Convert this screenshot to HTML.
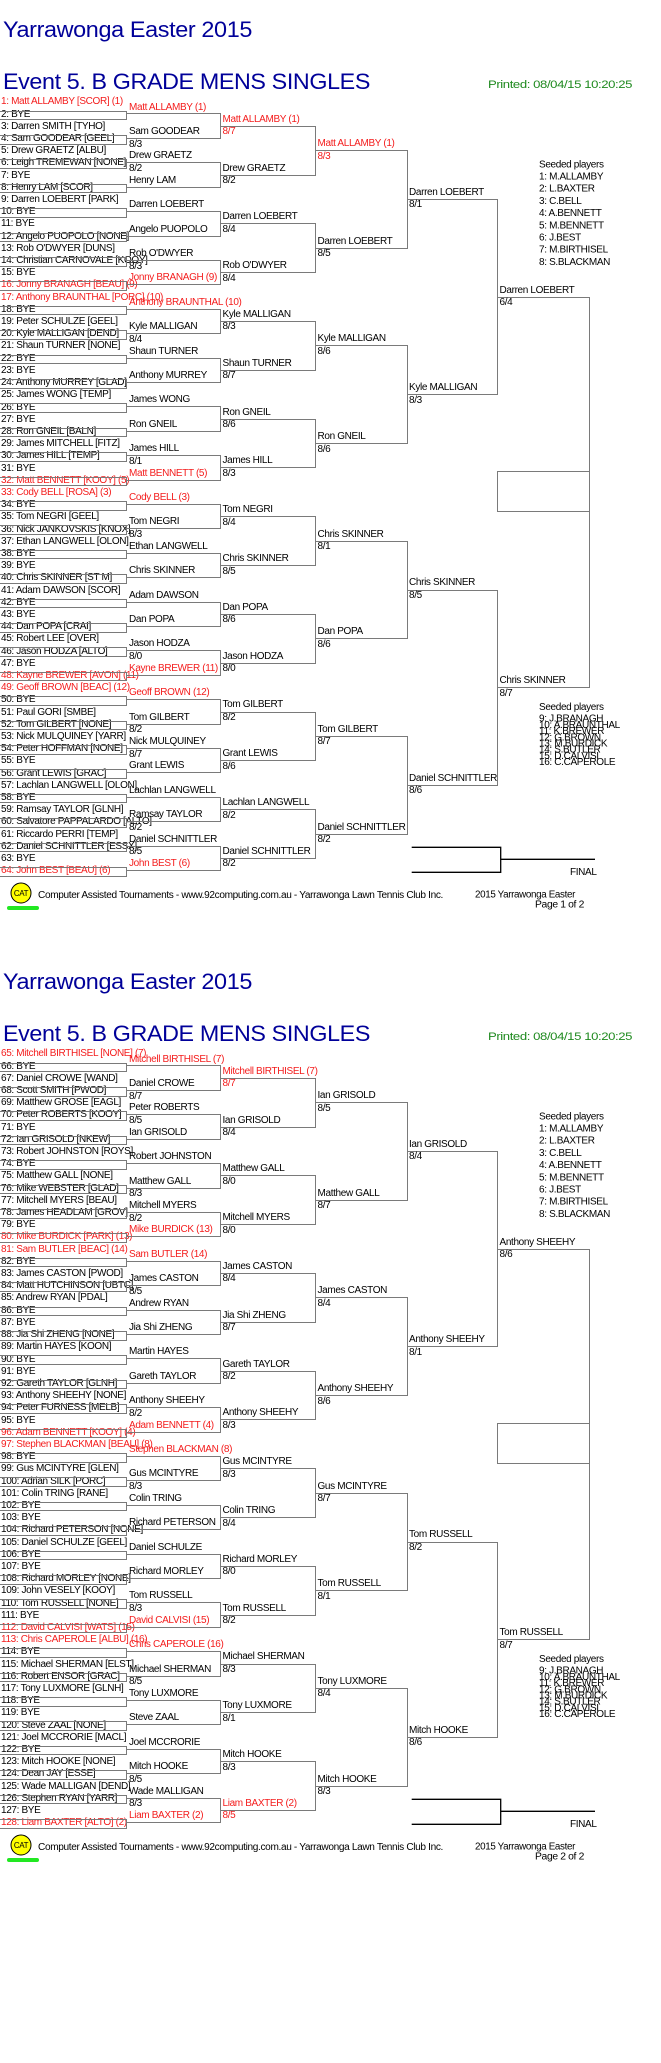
<!DOCTYPE html>
<html><head><meta charset="utf-8">
<style>
body{margin:0;width:661px;height:2063px;background:#fff;position:relative;overflow:hidden;font-family:"Liberation Sans",Arial,sans-serif;font-size:10px;letter-spacing:-0.35px;color:#000}
.pg{position:absolute;left:0;width:661px;height:952px}
.pg svg{position:absolute;left:0;top:0}
.e,.bx,.t{position:absolute;top:96.43px}
.e{left:1px}
.e div{height:12.206px;line-height:12.206px;white-space:nowrap}
.bx div{position:relative}
.bx div::after{content:"";position:absolute;left:0;border:1px solid #7a7a7a;border-left:0;box-sizing:border-box}
.b1{left:0}.b1 div{height:24.412px}.b1 div::after{top:14.1px;height:9.6px;width:127px}
.b2{left:126px}.b2 div{height:48.824px}.b2 div::after{top:17.07px;height:25.41px;width:95px}
.b3{left:220px}.b3 div{height:97.648px}.b3 div::after{top:29.28px;height:49.82px;width:96px}
.b4{left:315px}.b4 div{height:195.296px}.b4 div::after{top:53.69px;height:98.65px;width:92.7px}
.b5{left:406.7px}.b5 div{height:390.592px}.b5 div::after{top:102.5px;height:196.3px;width:91.3px}
.b6{left:497px}.b6 div{height:781.2px}.b6 div::after{top:200.2px;height:391.6px;width:93px}
.rect{position:absolute;left:497px;top:471px;width:93px;height:41px;border:1px solid #7a7a7a;box-sizing:border-box}
.t div{position:relative}
.t span{position:absolute;left:0;white-space:nowrap;line-height:12px}
.t2{left:129px}.t2 div{height:24.412px}.t2 .n{top:5.1px}.t2 .s{top:17.8px}
.t3{left:222.5px}.t3 div{height:48.824px}.t3 .n{top:17.31px}.t3 .s{top:29.78px}
.t4{left:317.5px}.t4 div{height:97.648px}.t4 .n{top:41.72px}.t4 .s{top:54.19px}
.t5{left:409px}.t5 div{height:195.296px}.t5 .n{top:90.5px}.t5 .s{top:103px}
.t6{left:499.5px}.t6 div{height:390.592px}.t6 .n{top:188.2px}.t6 .s{top:200.7px}
.r{color:#f41c1c}
svg text{font-family:"Liberation Sans",Arial,sans-serif}
</style></head><body>

<!-- PAGE 1 -->
<div class="pg" style="top:0">
<svg width="661" height="952">
<text x="3" y="37" font-size="22" fill="#000099" textLength="249" lengthAdjust="spacingAndGlyphs">Yarrawonga Easter 2015</text>
<text x="3" y="89" font-size="22" fill="#000099" textLength="367" lengthAdjust="spacingAndGlyphs">Event 5. B GRADE MENS SINGLES</text>
<text x="488" y="88" font-size="11" fill="#1f8a1f" textLength="144" lengthAdjust="spacingAndGlyphs">Printed: 08/04/15 10:20:25</text>
<g font-size="10" fill="#000" letter-spacing="-0.35">
<text x="539" y="167.3">Seeded players</text>
<text x="539" y="179.3">1: M.ALLAMBY</text>
<text x="539" y="191.5">2: L.BAXTER</text>
<text x="539" y="203.8">3: C.BELL</text>
<text x="539" y="216">4: A.BENNETT</text>
<text x="539" y="228.3">5: M.BENNETT</text>
<text x="539" y="240.5">6: J.BEST</text>
<text x="539" y="252.7">7: M.BIRTHISEL</text>
<text x="539" y="265">8: S.BLACKMAN</text>
<text x="539" y="710">Seeded players</text>
<text x="539" y="721.7">9: J.BRANAGH</text>
<text x="539" y="727.9">10: A.BRAUNTHAL</text>
<text x="539" y="734.1">11: K.BREWER</text>
<text x="539" y="740.3">12: G.BROWN</text>
<text x="539" y="746.5">13: M.BURDICK</text>
<text x="539" y="752.7">14: S.BUTLER</text>
<text x="539" y="758.9">15: D.CALVISI</text>
<text x="539" y="765">16: C.CAPEROLE</text>
<text x="570" y="875">FINAL</text>
<text x="38" y="898" textLength="405" lengthAdjust="spacingAndGlyphs">Computer Assisted Tournaments - www.92computing.com.au -  Yarrawonga Lawn Tennis Club Inc.</text>
<text x="475" y="897.7" textLength="100" lengthAdjust="spacingAndGlyphs">2015 Yarrawonga Easter</text>
<text x="535" y="907.5" textLength="49" lengthAdjust="spacingAndGlyphs">Page 1 of 2</text>
</g>
<path d="M411.7 847.3H500.7V872.3H411.7M500.7 859.3H595" fill="none" stroke="#000" stroke-width="1.3"/>
<circle cx="21" cy="893" r="10" fill="#ffff00" stroke="#000" stroke-width="1"/>
<text x="21" y="896" font-size="8" text-anchor="middle" fill="#000">CAT</text>
<rect x="7" y="906" width="32" height="4" rx="2" fill="#22e822"/>
</svg>
<div class="rect"></div>
<div class="e">
<div class="r">1: Matt ALLAMBY [SCOR] (1)</div><div>2: BYE</div><div>3: Darren SMITH [TYHO]</div><div>4: Sam GOODEAR [GEEL]</div>
<div>5: Drew GRAETZ [ALBU]</div><div>6: Leigh TREMEWAN [NONE]</div><div>7: BYE</div><div>8: Henry LAM [SCOR]</div>
<div>9: Darren LOEBERT [PARK]</div><div>10: BYE</div><div>11: BYE</div><div>12: Angelo PUOPOLO [NONE]</div>
<div>13: Rob O'DWYER [DUNS]</div><div>14: Christian CARNOVALE [KOOY]</div><div>15: BYE</div><div class="r">16: Jonny BRANAGH [BEAU] (9)</div>
<div class="r">17: Anthony BRAUNTHAL [PORC] (10)</div><div>18: BYE</div><div>19: Peter SCHULZE [GEEL]</div><div>20: Kyle MALLIGAN [DEND]</div>
<div>21: Shaun TURNER [NONE]</div><div>22: BYE</div><div>23: BYE</div><div>24: Anthony MURREY [GLAD]</div>
<div>25: James WONG [TEMP]</div><div>26: BYE</div><div>27: BYE</div><div>28: Ron GNEIL [BALN]</div>
<div>29: James MITCHELL [FITZ]</div><div>30: James HILL [TEMP]</div><div>31: BYE</div><div class="r">32: Matt BENNETT [KOOY] (5)</div>
<div class="r">33: Cody BELL [ROSA] (3)</div><div>34: BYE</div><div>35: Tom NEGRI [GEEL]</div><div>36: Nick JANKOVSKIS [KNOX]</div>
<div>37: Ethan LANGWELL [OLON]</div><div>38: BYE</div><div>39: BYE</div><div>40: Chris SKINNER [ST M]</div>
<div>41: Adam DAWSON [SCOR]</div><div>42: BYE</div><div>43: BYE</div><div>44: Dan POPA [CRAI]</div>
<div>45: Robert LEE [OVER]</div><div>46: Jason HODZA [ALTO]</div><div>47: BYE</div><div class="r">48: Kayne BREWER [AVON] (11)</div>
<div class="r">49: Geoff BROWN [BEAC] (12)</div><div>50: BYE</div><div>51: Paul GORI [SMBE]</div><div>52: Tom GILBERT [NONE]</div>
<div>53: Nick MULQUINEY [YARR]</div><div>54: Peter HOFFMAN [NONE]</div><div>55: BYE</div><div>56: Grant LEWIS [GRAC]</div>
<div>57: Lachlan LANGWELL [OLON]</div><div>58: BYE</div><div>59: Ramsay TAYLOR [GLNH]</div><div>60: Salvatore PAPPALARDO [ALTO]</div>
<div>61: Riccardo PERRI [TEMP]</div><div>62: Daniel SCHNITTLER [ESSX]</div><div>63: BYE</div><div class="r">64: John BEST [BEAU] (6)</div>
</div>
<div class="bx b1"><div></div><div></div><div></div><div></div><div></div><div></div><div></div><div></div><div></div><div></div><div></div><div></div><div></div><div></div><div></div><div></div><div></div><div></div><div></div><div></div><div></div><div></div><div></div><div></div><div></div><div></div><div></div><div></div><div></div><div></div><div></div><div></div></div>
<div class="bx b2"><div></div><div></div><div></div><div></div><div></div><div></div><div></div><div></div><div></div><div></div><div></div><div></div><div></div><div></div><div></div><div></div></div>
<div class="bx b3"><div></div><div></div><div></div><div></div><div></div><div></div><div></div><div></div></div>
<div class="bx b4"><div></div><div></div><div></div><div></div></div>
<div class="bx b5"><div></div><div></div></div>
<div class="bx b6"><div></div></div>
<div class="t t2">
<div><span class="n r">Matt ALLAMBY (1)</span></div>
<div><span class="n">Sam GOODEAR</span><span class="s">8/3</span></div>
<div><span class="n">Drew GRAETZ</span><span class="s">8/2</span></div>
<div><span class="n">Henry LAM</span></div>
<div><span class="n">Darren LOEBERT</span></div>
<div><span class="n">Angelo PUOPOLO</span></div>
<div><span class="n">Rob O'DWYER</span><span class="s">8/3</span></div>
<div><span class="n r">Jonny BRANAGH (9)</span></div>
<div><span class="n r">Anthony BRAUNTHAL (10)</span></div>
<div><span class="n">Kyle MALLIGAN</span><span class="s">8/4</span></div>
<div><span class="n">Shaun TURNER</span></div>
<div><span class="n">Anthony MURREY</span></div>
<div><span class="n">James WONG</span></div>
<div><span class="n">Ron GNEIL</span></div>
<div><span class="n">James HILL</span><span class="s">8/1</span></div>
<div><span class="n r">Matt BENNETT (5)</span></div>
<div><span class="n r">Cody BELL (3)</span></div>
<div><span class="n">Tom NEGRI</span><span class="s">8/3</span></div>
<div><span class="n">Ethan LANGWELL</span></div>
<div><span class="n">Chris SKINNER</span></div>
<div><span class="n">Adam DAWSON</span></div>
<div><span class="n">Dan POPA</span></div>
<div><span class="n">Jason HODZA</span><span class="s">8/0</span></div>
<div><span class="n r">Kayne BREWER (11)</span></div>
<div><span class="n r">Geoff BROWN (12)</span></div>
<div><span class="n">Tom GILBERT</span><span class="s">8/2</span></div>
<div><span class="n">Nick MULQUINEY</span><span class="s">8/7</span></div>
<div><span class="n">Grant LEWIS</span></div>
<div><span class="n">Lachlan LANGWELL</span></div>
<div><span class="n">Ramsay TAYLOR</span><span class="s">8/2</span></div>
<div><span class="n">Daniel SCHNITTLER</span><span class="s">8/5</span></div>
<div><span class="n r">John BEST (6)</span></div>
</div>
<div class="t t3">
<div><span class="n r">Matt ALLAMBY (1)</span><span class="s r">8/7</span></div>
<div><span class="n">Drew GRAETZ</span><span class="s">8/2</span></div>
<div><span class="n">Darren LOEBERT</span><span class="s">8/4</span></div>
<div><span class="n">Rob O'DWYER</span><span class="s">8/4</span></div>
<div><span class="n">Kyle MALLIGAN</span><span class="s">8/3</span></div>
<div><span class="n">Shaun TURNER</span><span class="s">8/7</span></div>
<div><span class="n">Ron GNEIL</span><span class="s">8/6</span></div>
<div><span class="n">James HILL</span><span class="s">8/3</span></div>
<div><span class="n">Tom NEGRI</span><span class="s">8/4</span></div>
<div><span class="n">Chris SKINNER</span><span class="s">8/5</span></div>
<div><span class="n">Dan POPA</span><span class="s">8/6</span></div>
<div><span class="n">Jason HODZA</span><span class="s">8/0</span></div>
<div><span class="n">Tom GILBERT</span><span class="s">8/2</span></div>
<div><span class="n">Grant LEWIS</span><span class="s">8/6</span></div>
<div><span class="n">Lachlan LANGWELL</span><span class="s">8/2</span></div>
<div><span class="n">Daniel SCHNITTLER</span><span class="s">8/2</span></div>
</div>
<div class="t t4">
<div><span class="n r">Matt ALLAMBY (1)</span><span class="s r">8/3</span></div>
<div><span class="n">Darren LOEBERT</span><span class="s">8/5</span></div>
<div><span class="n">Kyle MALLIGAN</span><span class="s">8/6</span></div>
<div><span class="n">Ron GNEIL</span><span class="s">8/6</span></div>
<div><span class="n">Chris SKINNER</span><span class="s">8/1</span></div>
<div><span class="n">Dan POPA</span><span class="s">8/6</span></div>
<div><span class="n">Tom GILBERT</span><span class="s">8/7</span></div>
<div><span class="n">Daniel SCHNITTLER</span><span class="s">8/2</span></div>
</div>
<div class="t t5">
<div><span class="n">Darren LOEBERT</span><span class="s">8/1</span></div>
<div><span class="n">Kyle MALLIGAN</span><span class="s">8/3</span></div>
<div><span class="n">Chris SKINNER</span><span class="s">8/5</span></div>
<div><span class="n">Daniel SCHNITTLER</span><span class="s">8/6</span></div>
</div>
<div class="t t6">
<div><span class="n">Darren LOEBERT</span><span class="s">6/4</span></div>
<div><span class="n">Chris SKINNER</span><span class="s">8/7</span></div>
</div>
</div>

<!-- PAGE 2 -->
<div class="pg" style="top:952px">
<svg width="661" height="952">
<text x="3" y="37" font-size="22" fill="#000099" textLength="249" lengthAdjust="spacingAndGlyphs">Yarrawonga Easter 2015</text>
<text x="3" y="89" font-size="22" fill="#000099" textLength="367" lengthAdjust="spacingAndGlyphs">Event 5. B GRADE MENS SINGLES</text>
<text x="488" y="88" font-size="11" fill="#1f8a1f" textLength="144" lengthAdjust="spacingAndGlyphs">Printed: 08/04/15 10:20:25</text>
<g font-size="10" fill="#000" letter-spacing="-0.35">
<text x="539" y="167.3">Seeded players</text>
<text x="539" y="179.3">1: M.ALLAMBY</text>
<text x="539" y="191.5">2: L.BAXTER</text>
<text x="539" y="203.8">3: C.BELL</text>
<text x="539" y="216">4: A.BENNETT</text>
<text x="539" y="228.3">5: M.BENNETT</text>
<text x="539" y="240.5">6: J.BEST</text>
<text x="539" y="252.7">7: M.BIRTHISEL</text>
<text x="539" y="265">8: S.BLACKMAN</text>
<text x="539" y="710">Seeded players</text>
<text x="539" y="721.7">9: J.BRANAGH</text>
<text x="539" y="727.9">10: A.BRAUNTHAL</text>
<text x="539" y="734.1">11: K.BREWER</text>
<text x="539" y="740.3">12: G.BROWN</text>
<text x="539" y="746.5">13: M.BURDICK</text>
<text x="539" y="752.7">14: S.BUTLER</text>
<text x="539" y="758.9">15: D.CALVISI</text>
<text x="539" y="765">16: C.CAPEROLE</text>
<text x="570" y="875">FINAL</text>
<text x="38" y="898" textLength="405" lengthAdjust="spacingAndGlyphs">Computer Assisted Tournaments - www.92computing.com.au -  Yarrawonga Lawn Tennis Club Inc.</text>
<text x="475" y="897.7" textLength="100" lengthAdjust="spacingAndGlyphs">2015 Yarrawonga Easter</text>
<text x="535" y="907.5" textLength="49" lengthAdjust="spacingAndGlyphs">Page 2 of 2</text>
</g>
<path d="M411.7 847.3H500.7V872.3H411.7M500.7 859.3H595" fill="none" stroke="#000" stroke-width="1.3"/>
<circle cx="21" cy="893" r="10" fill="#ffff00" stroke="#000" stroke-width="1"/>
<text x="21" y="896" font-size="8" text-anchor="middle" fill="#000">CAT</text>
<rect x="7" y="906" width="32" height="4" rx="2" fill="#22e822"/>
</svg>
<div class="rect"></div>
<div class="e">
<div class="r">65: Mitchell BIRTHISEL [NONE] (7)</div><div>66: BYE</div><div>67: Daniel CROWE [WAND]</div><div>68: Scott SMITH [PWOD]</div>
<div>69: Matthew GROSE [EAGL]</div><div>70: Peter ROBERTS [KOOY]</div><div>71: BYE</div><div>72: Ian GRISOLD [NKEW]</div>
<div>73: Robert JOHNSTON [ROYS]</div><div>74: BYE</div><div>75: Matthew GALL [NONE]</div><div>76: Mike WEBSTER [GLAD]</div>
<div>77: Mitchell MYERS [BEAU]</div><div>78: James HEADLAM [GROV]</div><div>79: BYE</div><div class="r">80: Mike BURDICK [PARK] (13)</div>
<div class="r">81: Sam BUTLER [BEAC] (14)</div><div>82: BYE</div><div>83: James CASTON [PWOD]</div><div>84: Matt HUTCHINSON [UBTC]</div>
<div>85: Andrew RYAN [PDAL]</div><div>86: BYE</div><div>87: BYE</div><div>88: Jia Shi ZHENG [NONE]</div>
<div>89: Martin HAYES [KOON]</div><div>90: BYE</div><div>91: BYE</div><div>92: Gareth TAYLOR [GLNH]</div>
<div>93: Anthony SHEEHY [NONE]</div><div>94: Peter FURNESS [MELB]</div><div>95: BYE</div><div class="r">96: Adam BENNETT [KOOY] (4)</div>
<div class="r">97: Stephen BLACKMAN [BEAU] (8)</div><div>98: BYE</div><div>99: Gus MCINTYRE [GLEN]</div><div>100: Adrian SILK [PORC]</div>
<div>101: Colin TRING [RANE]</div><div>102: BYE</div><div>103: BYE</div><div>104: Richard PETERSON [NONE]</div>
<div>105: Daniel SCHULZE [GEEL]</div><div>106: BYE</div><div>107: BYE</div><div>108: Richard MORLEY [NONE]</div>
<div>109: John VESELY [KOOY]</div><div>110: Tom RUSSELL [NONE]</div><div>111: BYE</div><div class="r">112: David CALVISI [WATS] (15)</div>
<div class="r">113: Chris CAPEROLE [ALBU] (16)</div><div>114: BYE</div><div>115: Michael SHERMAN [ELST]</div><div>116: Robert ENSOR [GRAC]</div>
<div>117: Tony LUXMORE [GLNH]</div><div>118: BYE</div><div>119: BYE</div><div>120: Steve ZAAL [NONE]</div>
<div>121: Joel MCCRORIE [MACL]</div><div>122: BYE</div><div>123: Mitch HOOKE [NONE]</div><div>124: Dean JAY [ESSE]</div>
<div>125: Wade MALLIGAN [DEND]</div><div>126: Stephen RYAN [YARR]</div><div>127: BYE</div><div class="r">128: Liam BAXTER [ALTO] (2)</div>
</div>
<div class="bx b1"><div></div><div></div><div></div><div></div><div></div><div></div><div></div><div></div><div></div><div></div><div></div><div></div><div></div><div></div><div></div><div></div><div></div><div></div><div></div><div></div><div></div><div></div><div></div><div></div><div></div><div></div><div></div><div></div><div></div><div></div><div></div><div></div></div>
<div class="bx b2"><div></div><div></div><div></div><div></div><div></div><div></div><div></div><div></div><div></div><div></div><div></div><div></div><div></div><div></div><div></div><div></div></div>
<div class="bx b3"><div></div><div></div><div></div><div></div><div></div><div></div><div></div><div></div></div>
<div class="bx b4"><div></div><div></div><div></div><div></div></div>
<div class="bx b5"><div></div><div></div></div>
<div class="bx b6"><div></div></div>
<div class="t t2">
<div><span class="n r">Mitchell BIRTHISEL (7)</span></div>
<div><span class="n">Daniel CROWE</span><span class="s">8/7</span></div>
<div><span class="n">Peter ROBERTS</span><span class="s">8/5</span></div>
<div><span class="n">Ian GRISOLD</span></div>
<div><span class="n">Robert JOHNSTON</span></div>
<div><span class="n">Matthew GALL</span><span class="s">8/3</span></div>
<div><span class="n">Mitchell MYERS</span><span class="s">8/2</span></div>
<div><span class="n r">Mike BURDICK (13)</span></div>
<div><span class="n r">Sam BUTLER (14)</span></div>
<div><span class="n">James CASTON</span><span class="s">8/5</span></div>
<div><span class="n">Andrew RYAN</span></div>
<div><span class="n">Jia Shi ZHENG</span></div>
<div><span class="n">Martin HAYES</span></div>
<div><span class="n">Gareth TAYLOR</span></div>
<div><span class="n">Anthony SHEEHY</span><span class="s">8/2</span></div>
<div><span class="n r">Adam BENNETT (4)</span></div>
<div><span class="n r">Stephen BLACKMAN (8)</span></div>
<div><span class="n">Gus MCINTYRE</span><span class="s">8/3</span></div>
<div><span class="n">Colin TRING</span></div>
<div><span class="n">Richard PETERSON</span></div>
<div><span class="n">Daniel SCHULZE</span></div>
<div><span class="n">Richard MORLEY</span></div>
<div><span class="n">Tom RUSSELL</span><span class="s">8/3</span></div>
<div><span class="n r">David CALVISI (15)</span></div>
<div><span class="n r">Chris CAPEROLE (16)</span></div>
<div><span class="n">Michael SHERMAN</span><span class="s">8/5</span></div>
<div><span class="n">Tony LUXMORE</span></div>
<div><span class="n">Steve ZAAL</span></div>
<div><span class="n">Joel MCCRORIE</span></div>
<div><span class="n">Mitch HOOKE</span><span class="s">8/5</span></div>
<div><span class="n">Wade MALLIGAN</span><span class="s">8/3</span></div>
<div><span class="n r">Liam BAXTER (2)</span></div>
</div>
<div class="t t3">
<div><span class="n r">Mitchell BIRTHISEL (7)</span><span class="s r">8/7</span></div>
<div><span class="n">Ian GRISOLD</span><span class="s">8/4</span></div>
<div><span class="n">Matthew GALL</span><span class="s">8/0</span></div>
<div><span class="n">Mitchell MYERS</span><span class="s">8/0</span></div>
<div><span class="n">James CASTON</span><span class="s">8/4</span></div>
<div><span class="n">Jia Shi ZHENG</span><span class="s">8/7</span></div>
<div><span class="n">Gareth TAYLOR</span><span class="s">8/2</span></div>
<div><span class="n">Anthony SHEEHY</span><span class="s">8/3</span></div>
<div><span class="n">Gus MCINTYRE</span><span class="s">8/3</span></div>
<div><span class="n">Colin TRING</span><span class="s">8/4</span></div>
<div><span class="n">Richard MORLEY</span><span class="s">8/0</span></div>
<div><span class="n">Tom RUSSELL</span><span class="s">8/2</span></div>
<div><span class="n">Michael SHERMAN</span><span class="s">8/3</span></div>
<div><span class="n">Tony LUXMORE</span><span class="s">8/1</span></div>
<div><span class="n">Mitch HOOKE</span><span class="s">8/3</span></div>
<div><span class="n r">Liam BAXTER (2)</span><span class="s r">8/5</span></div>
</div>
<div class="t t4">
<div><span class="n">Ian GRISOLD</span><span class="s">8/5</span></div>
<div><span class="n">Matthew GALL</span><span class="s">8/7</span></div>
<div><span class="n">James CASTON</span><span class="s">8/4</span></div>
<div><span class="n">Anthony SHEEHY</span><span class="s">8/6</span></div>
<div><span class="n">Gus MCINTYRE</span><span class="s">8/7</span></div>
<div><span class="n">Tom RUSSELL</span><span class="s">8/1</span></div>
<div><span class="n">Tony LUXMORE</span><span class="s">8/4</span></div>
<div><span class="n">Mitch HOOKE</span><span class="s">8/3</span></div>
</div>
<div class="t t5">
<div><span class="n">Ian GRISOLD</span><span class="s">8/4</span></div>
<div><span class="n">Anthony SHEEHY</span><span class="s">8/1</span></div>
<div><span class="n">Tom RUSSELL</span><span class="s">8/2</span></div>
<div><span class="n">Mitch HOOKE</span><span class="s">8/6</span></div>
</div>
<div class="t t6">
<div><span class="n">Anthony SHEEHY</span><span class="s">8/6</span></div>
<div><span class="n">Tom RUSSELL</span><span class="s">8/7</span></div>
</div>
</div>
</body></html>
